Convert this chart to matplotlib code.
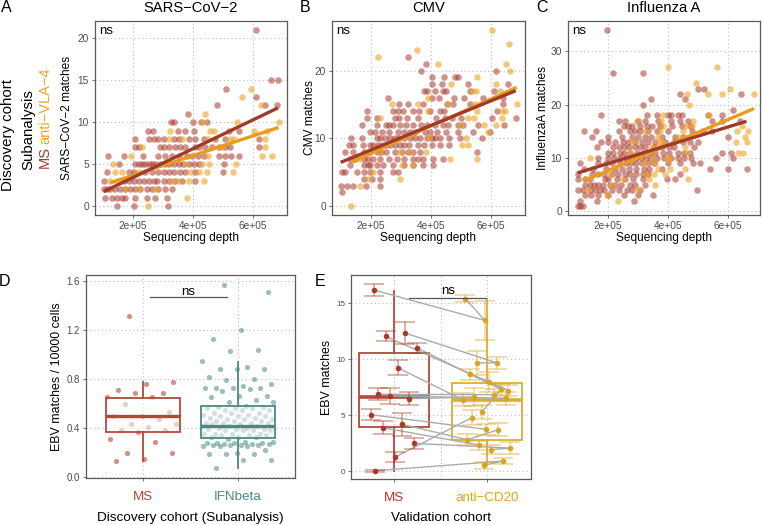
import numpy as np
import matplotlib.pyplot as plt
from matplotlib.ticker import FuncFormatter

plt.rcParams['font.family'] = ['Liberation Sans', 'DejaVu Sans']

W, H = 763, 525

# 测序深度（单位 1e5），按匹配数分组，从散点图读取
sars_ms = {
    0: [1.48, 2.03, 3.16],
    1: [1.07, 1.31, 1.48, 1.65, 1.76, 2.09, 2.48, 2.75, 3.14],
    2: [1.04, 1.15, 1.26, 1.42, 1.59, 1.76, 1.92, 2.09, 2.25, 2.48, 2.64, 2.86, 3.09, 3.31],
    3: [1.04, 1.70, 1.87, 2.03, 2.20, 2.37, 2.53, 2.70, 2.81, 3.03, 3.20, 3.42, 3.64, 4.08],
    4: [1.15, 1.87, 2.03, 2.42, 2.64, 2.86, 3.03, 3.20, 3.36, 3.58, 3.75, 4.08, 4.99],
    5: [1.56, 2.07, 2.20, 2.31, 2.42, 2.53, 2.64, 2.75, 2.92, 3.09, 3.22, 3.36, 3.53, 3.69, 3.86, 4.03, 4.19, 5.02],
    6: [1.18, 1.70, 2.33, 2.86, 3.09, 3.31, 3.53, 3.81, 3.97, 4.17, 4.38, 4.86, 5.08, 5.28, 5.52],
    7: [2.07, 2.20, 2.92, 3.03, 3.20, 3.40, 3.58, 3.75, 4.08, 4.19, 4.41, 4.64, 4.86, 5.08, 5.24, 6.19],
    8: [2.07, 2.53, 2.70, 2.86, 3.03, 3.36, 3.53, 3.86, 4.08, 4.36, 4.75, 5.08, 6.19],
    9: [2.50, 2.68, 3.50, 3.75, 4.03, 5.19, 5.52],
    10: [3.27, 3.36, 4.00, 4.27, 4.47],
    11: [3.84],
    12: [4.82, 6.41, 6.80],
    13: [6.10],
    14: [5.11],
    15: [6.60, 6.83],
    21: [6.11],
}
sars_vla = {
    0: [2.51],
    1: [3.81],
    2: [1.76, 2.20, 2.75],
    3: [1.26, 1.48, 3.31, 3.53, 3.86, 4.36],
    4: [1.42, 1.65, 2.20, 3.92, 4.19, 4.47, 5.32],
    5: [1.35, 3.75, 4.30, 4.55, 5.43],
    6: [1.96, 4.52, 6.30, 6.63],
    7: [2.31, 4.97, 6.41],
    8: [3.22, 3.64, 4.52, 5.24, 5.36, 6.41],
    9: [3.23, 4.58, 4.69, 6.02, 6.46],
    10: [4.30, 5.47, 6.85],
    11: [4.39],
    12: [6.27],
    13: [5.63],
    14: [5.94],
}

cmv_ms = {
    2: [1.03],
    3: [1.00, 1.20, 1.42, 1.84, 2.31],
    4: [1.76, 2.03, 2.31],
    5: [1.04, 1.15, 1.53, 1.76, 1.98, 2.31, 2.75, 2.92],
    6: [1.31, 1.76, 1.92, 1.98, 2.20, 2.42, 2.75, 3.09, 3.42, 3.75, 4.08],
    7: [1.31, 1.48, 1.76, 1.92, 2.09, 2.31, 2.59, 2.86, 3.09, 3.42, 3.58, 3.75, 4.06, 4.41],
    8: [1.13, 1.42, 1.76, 1.98, 2.20, 2.34, 2.51, 2.81, 3.03, 3.23, 3.42, 3.64, 5.52],
    9: [1.26, 1.40, 1.73, 1.98, 2.09, 2.23, 2.37, 2.51, 2.64, 2.79, 2.97, 3.11, 3.28, 3.56, 3.78, 4.03, 4.30, 4.61],
    10: [1.35, 1.70, 2.20, 2.31, 2.48, 2.64, 2.79, 2.94, 3.11, 3.31, 3.47, 3.64, 3.86, 4.03, 4.14, 4.30, 4.60, 4.97, 5.69],
    11: [1.96, 2.14, 2.37, 2.59, 2.92, 3.11, 3.31, 3.47, 3.81, 3.97, 4.19, 4.50, 4.91, 5.41, 5.96],
    12: [1.72, 2.20, 2.51, 2.62, 2.75, 2.97, 3.17, 3.42, 3.67, 3.86, 4.12, 4.39, 4.56, 4.91, 5.08, 5.58, 6.43],
    13: [1.87, 2.20, 2.79, 2.94, 3.20, 3.56, 4.17, 4.47, 4.71, 5.00, 6.02, 6.82],
    14: [1.87, 2.73, 2.90, 3.06, 3.42, 3.62, 3.97, 4.30, 4.45, 6.19],
    15: [2.95, 3.23, 3.75, 4.52, 4.72, 5.30, 6.39],
    16: [2.56, 4.05, 4.28, 4.78, 5.10, 5.74, 6.41],
    17: [3.78, 3.86, 4.12, 4.41, 4.50, 5.30, 6.10],
    18: [4.05, 4.36, 5.25, 6.58],
    19: [4.05, 4.45, 4.80, 4.89],
    20: [3.67, 6.15],
    21: [3.84],
    22: [3.25],
}
cmv_vla = {
    0: [1.35],
    3: [1.65],
    4: [1.92, 2.97],
    5: [2.07],
    6: [3.03, 3.42],
    7: [1.65, 4.64, 5.52],
    8: [2.31, 2.97, 3.31, 3.84],
    9: [5.02, 5.22],
    10: [3.95, 5.17],
    11: [5.91],
    12: [5.00, 5.78, 6.15],
    13: [2.31, 5.22, 5.44, 6.37],
    14: [3.89, 5.52, 6.37, 6.46],
    15: [2.70, 3.56, 4.58, 5.47, 6.85],
    16: [3.89],
    17: [5.36, 5.49, 6.30],
    18: [4.67, 6.15],
    19: [5.52],
    20: [6.63],
    21: [4.25, 6.50],
    22: [2.23],
    23: [3.55],
    24: [6.60],
    26: [6.04],
}

flu_ms = {
    1: [1.00, 1.08, 1.17],
    2: [1.08, 1.63, 2.89],
    3: [1.24, 1.44, 1.69, 2.02, 2.56, 3.02, 3.52],
    4: [1.00, 1.19, 1.41, 1.58, 1.74, 1.89, 2.13, 2.39, 2.63, 2.80, 3.08, 4.97],
    5: [1.24, 1.41, 1.56, 1.69, 1.86, 2.08, 2.24, 2.44, 2.74, 2.91, 3.24],
    6: [1.02, 1.24, 1.41, 1.91, 2.02, 2.30, 2.58, 2.83, 3.17, 3.97, 4.24],
    7: [1.02, 1.47, 1.69, 1.89, 2.13, 2.36, 2.58, 2.74, 2.94, 3.17, 3.36, 4.41],
    8: [1.22, 1.52, 1.94, 2.24, 2.49, 2.72, 2.94, 3.22, 3.39, 3.80, 5.41, 6.02, 6.63],
    9: [1.08, 1.67, 1.94, 2.13, 2.41, 2.60, 2.78, 2.94, 3.16, 3.36, 3.56, 4.02, 4.41, 4.86, 5.08],
    10: [1.69, 2.00, 2.22, 2.41, 2.61, 2.78, 2.93, 3.11, 3.28, 3.44, 3.63, 3.89, 4.11, 4.33, 4.56, 4.78, 5.60, 6.19],
    11: [2.02, 2.19, 2.41, 2.56, 2.74, 2.97, 3.19, 3.41, 3.58, 3.83, 4.06, 4.33, 4.56, 4.74, 5.80, 6.11],
    12: [1.66, 2.19, 2.39, 2.56, 2.72, 2.91, 3.08, 3.24, 3.56, 3.80, 4.04, 4.22, 4.89],
    13: [1.78, 2.02, 2.24, 2.50, 2.69, 2.91, 3.13, 3.36, 3.58, 3.91, 4.22, 4.52, 4.74, 5.02],
    14: [1.47, 2.02, 2.47, 2.80, 3.00, 3.24, 3.44, 3.80, 4.24, 4.52, 6.00],
    15: [1.21, 1.60, 2.39, 2.74, 2.91, 3.08, 3.36, 3.63, 4.02, 4.80, 5.19, 5.47],
    16: [2.56, 2.67, 2.80, 3.08, 3.30, 3.47, 3.74, 4.13, 4.49, 4.74],
    17: [2.38, 2.58, 3.02, 3.24, 3.67, 4.11, 4.41, 4.69, 5.47, 5.80, 6.41],
    18: [1.78, 3.30, 3.63, 4.02, 4.11, 4.36, 4.47, 5.33, 5.80],
    19: [6.19],
    20: [3.17],
    21: [3.43, 4.58],
    22: [4.41, 6.43],
    23: [5.02, 5.22],
    26: [2.19, 3.19],
    34: [1.97],
}
flu_vla = {
    2: [2.33],
    3: [1.97],
    4: [1.33, 3.00],
    5: [2.13, 3.58],
    6: [1.24, 2.52, 3.39, 4.67],
    7: [2.08, 3.28, 3.56, 3.91],
    8: [3.69, 4.08, 4.58],
    9: [3.21, 3.58],
    10: [1.41, 3.47, 3.97, 4.06],
    11: [2.74, 4.63, 6.33, 6.52],
    12: [3.47, 3.69, 4.58],
    13: [2.86, 3.74, 3.80, 6.28, 6.63],
    14: [3.69, 4.36, 6.58],
    15: [3.24, 3.74, 4.52, 6.30, 6.67],
    16: [3.83, 4.61, 4.80, 6.47],
    17: [2.97, 3.77, 4.83],
    18: [3.86, 5.39],
    20: [4.71],
    22: [4.63, 5.36, 5.80, 6.88],
    23: [6.08],
    24: [4.94],
    27: [4.00, 5.63],
}

# D：EBV matches / 10000 cells
d_ms = [1.315, 0.78, 0.76, 0.71, 0.69, 0.69, 0.65, 0.65, 0.60, 0.535, 0.50, 0.50,
        0.47, 0.43, 0.43, 0.41, 0.385, 0.38, 0.37, 0.31, 0.29, 0.20, 0.20, 0.15, 0.13]
d_ifn = [1.57, 1.51, 1.20, 1.13, 1.04, 1.03, 0.95, 0.90, 0.88, 0.88, 0.88, 0.82, 0.80, 0.79,
         0.76, 0.74, 0.73, 0.73, 0.725, 0.725, 0.72, 0.70, 0.665, 0.66, 0.65, 0.63, 0.61, 0.61,
         0.58, 0.57, 0.57, 0.56, 0.56, 0.56, 0.55, 0.55, 0.55, 0.52, 0.52, 0.52, 0.51, 0.51,
         0.50, 0.50, 0.50, 0.48, 0.48, 0.47, 0.47, 0.47, 0.46, 0.46, 0.46, 0.44, 0.44, 0.44,
         0.44, 0.43, 0.43, 0.42, 0.42, 0.42, 0.40, 0.40, 0.39, 0.39, 0.39, 0.38, 0.38, 0.38,
         0.38, 0.35, 0.35, 0.35, 0.35, 0.34, 0.34, 0.34, 0.33, 0.33, 0.33, 0.31, 0.29, 0.285,
         0.28, 0.28, 0.28, 0.28, 0.27, 0.27, 0.27, 0.265, 0.26, 0.26, 0.26, 0.255, 0.25, 0.25,
         0.22, 0.20, 0.19, 0.185, 0.185, 0.135, 0.135, 0.07]
d_box_ms = dict(whislo=0.128, q1=0.365, med=0.50, q3=0.648, whishi=0.774)
d_box_ifn = dict(whislo=0.073, q1=0.318, med=0.418, q3=0.584, whishi=0.943)

# E：每位患者 MS 值与 anti-CD20 随访值（含误差）
e_ms = [16.16, 12.32, 12.02, 11.00, 9.23, 6.85, 6.46, 6.70, 5.03, 4.17, 3.87, 2.47, 1.22, 0.03]
e_ms_err = [0.5, 1.0, 0.45, 0.45, 0.65, 0.55, 0.6, 0.75, 0.5, 1.05, 0.6, 0.5, 0.45, 0.1]
e_cd20 = [[13.45, 15.39], [9.67, 9.64], [7.17, 7.95, 8.63], [7.29, 5.27], [6.37], [6.82],
          [6.61], [6.50], [3.72], [2.80, 3.69], [2.32], [2.05, 1.90], [4.76], [0.89, 0.51]]
e_cd20_err = [[1.75, 0.3], [0.55, 1.05], [0.5, 0.9, 0.5], [0.5, 0.6], [0.6], [0.5],
              [0.8], [0.6], [0.5], [0.5, 0.6], [0.4], [0.5, 0.4], [0.65], [0.3, 0.3]]
e_box_ms = dict(whislo=0.0, q1=3.93, med=6.61, q3=10.57, whishi=16.07)
e_box_cd20 = dict(whislo=0.55, q1=2.74, med=6.37, q3=7.89, whishi=15.39)

C_MS = '#A8392B'
C_VLA = '#EBA325'
C_MS_LINE = '#A23A28'
C_VLA_LINE = '#E99B1B'
C_D_MS = '#B5473A'
C_IFN = '#4C8985'
C_CD20 = '#D9A521'
GRID = '#BEBEBE'


def flatten(d):
    xs, ys = [], []
    for k, v in d.items():
        xs += v
        ys += [k] * len(v)
    return np.array(xs) * 1e5, np.array(ys, dtype=float)


def spread(n, width, start=0.3):
    # 确定性的抖动偏移
    return ((np.arange(n) * 0.618034 + start) % 1 * 2 - 1) * width


def ax_at(l, t, r, b):
    return fig.add_axes([l / W, 1 - b / H, (r - l) / W, (b - t) / H])


def ftext(x, y, s, **kw):
    fig.text(x / W, 1 - y / H, s, **kw)


def style(ax, labelsize):
    for s in ax.spines.values():
        s.set_color('#5A5A5A')
        s.set_linewidth(0.9)
    ax.grid(True, color=GRID, linestyle=(0, (1, 2.5)), linewidth=0.8)
    ax.set_axisbelow(True)
    ax.tick_params(length=2.2, width=0.6, color='#5A5A5A', labelcolor='#4D4D4D',
                   labelsize=labelsize, pad=2)


fig = plt.figure(figsize=(W / 100, H / 100), dpi=100)

# ---- A, B, C 散点 + 线性拟合 ----
panels = [
    ('SARS\u2212CoV\u22122', sars_ms, sars_vla, (94.7, 21.3, 287, 214.7), (0.74e5, 7.13e5),
     (-1.05, 22.05), [0, 5, 10, 15, 20], 'SARS\u2212CoV\u22122 matches', 67.5, 'A', 6),
    ('CMV', cmv_ms, cmv_vla, (331.7, 21.3, 525, 214.7), (0.70e5, 7.13e5),
     (-1.3, 27.3), [0, 10, 20], 'CMV matches', 310, 'B', 305),
    ('Influenza A', flu_ms, flu_vla, (567.7, 21.3, 760, 214.7), (0.67e5, 7.08e5),
     (-0.65, 35.65), [0, 10, 20, 30], 'InfluenzaA matches', 543, 'C', 542),
]
for title, ms, vla, box, xlim, ylim, yticks, ylab, ylx, letter, lx in panels:
    ax = ax_at(*box)
    style(ax, 7.3)
    xm, ym = flatten(ms)
    xv, yv = flatten(vla)
    ax.scatter(xm, ym, s=22, color=C_MS, alpha=0.55, linewidths=0, zorder=2)
    ax.scatter(xv, yv, s=22, color=C_VLA, alpha=0.6, linewidths=0, zorder=2)
    for xs, ys, c in [(xv, yv, C_VLA_LINE), (xm, ym, C_MS_LINE)]:
        k, b0 = np.polyfit(xs, ys, 1)
        xx = np.array([xs.min(), xs.max()])
        ax.plot(xx, k * xx + b0, color=c, lw=2.4, solid_capstyle='butt', zorder=3)
    ax.set_xlim(*xlim)
    ax.set_ylim(*ylim)
    ax.set_xticks([2e5, 4e5, 6e5])
    ax.xaxis.set_major_formatter(FuncFormatter(lambda v, p: '{:.0e}'.format(v)))
    ax.set_yticks(yticks)
    ax.text(0.022, 0.932, 'ns', transform=ax.transAxes, ha='left', va='baseline', fontsize=9.5)
    l, t, r, b = box
    ftext((l + r) / 2, 8, title, ha='center', va='center', fontsize=10.6)
    ftext((l + r) / 2, 238, 'Sequencing depth', ha='center', va='center', fontsize=8.6)
    ftext(ylx, (t + b) / 2, ylab, ha='center', va='center', rotation=90, fontsize=8.6)
    ftext(lx, 8, letter, ha='center', va='center', fontsize=11.5)

# 左侧图例
ftext(8.5, 135, 'Discovery cohort', rotation=90, ha='center', va='center', fontsize=10.8)
ftext(28, 130, 'Subanalysis', rotation=90, ha='center', va='center', fontsize=10.8)
ftext(45, 168, 'MS', rotation=90, ha='center', va='bottom', fontsize=10.5, color=C_MS)
ftext(45, 68, 'anti\u2212VLA\u22124', rotation=90, ha='center', va='top', fontsize=10.5, color=C_VLA)

# ---- D 箱线图 ----
axd = ax_at(86, 275, 295, 478)
style(axd, 7)
for pos, vals, c, a in [(1, d_ms, C_D_MS, 0.6), (2, d_ifn, C_IFN, 0.55)]:
    xs = pos + spread(len(vals), 0.38)
    axd.scatter(xs, vals, s=14, color=c, alpha=a, linewidths=0, zorder=2)
for pos, st, c in [(1, d_box_ms, C_D_MS), (2, d_box_ifn, C_IFN)]:
    axd.bxp([dict(st, fliers=[])], positions=[pos], widths=0.77, patch_artist=True,
            showfliers=False, showcaps=False, manage_ticks=False, zorder=3,
            boxprops=dict(facecolor=(1, 1, 1, 0.55), edgecolor=c, linewidth=1.3),
            medianprops=dict(color=c, linewidth=2.4, solid_capstyle='butt'),
            whiskerprops=dict(color=c, linewidth=1.3))
axd.plot([1.07, 1.88], [1.467, 1.467], color='#555555', lw=0.9, zorder=4)
axd.text(1.475, 1.485, 'ns', ha='center', va='baseline', fontsize=9.5)
axd.set_xlim(0.4, 2.6)
axd.set_ylim(-0.008, 1.65)
axd.set_yticks([0.0, 0.4, 0.8, 1.2, 1.6])
axd.yaxis.set_major_formatter(FuncFormatter(lambda v, p: '{:.1f}'.format(v)))
axd.set_xticks([1, 2])
axd.set_xticklabels(['MS', 'IFNbeta'], fontsize=9.6)
axd.tick_params(axis='x', pad=7)
for lab, c in zip(axd.get_xticklabels(), [C_D_MS, C_IFN]):
    lab.set_color(c)
ftext(190.5, 518, 'Discovery cohort (Subanalysis)', ha='center', va='center', fontsize=9.7)
ftext(57, 376.5, 'EBV matches / 10000 cells', rotation=90, ha='center', va='center', fontsize=8.9)
ftext(5, 281, 'D', ha='center', va='center', fontsize=11.5)

# ---- E 配对箱线图 ----
axe = ax_at(351, 275, 531, 479)
style(axe, 5.8)
for pos, st, c in [(1, e_box_ms, '#B04A3D'), (2, e_box_cd20, '#DDAD33')]:
    axe.bxp([dict(st, fliers=[])], positions=[pos], widths=0.75, patch_artist=True,
            showfliers=False, showcaps=False, manage_ticks=False, zorder=1.5,
            boxprops=dict(facecolor='none', edgecolor=c, linewidth=1.3),
            medianprops=dict(color=c, linewidth=2.6, solid_capstyle='butt'),
            whiskerprops=dict(color=c, linewidth=1.3))
ms_x = 1 + spread(len(e_ms), 0.27, 0.1)
n_cd = sum(len(v) for v in e_cd20)
cd_x_all = 2 + spread(n_cd, 0.27, 0.45)
cd_x, cd_y, cd_e = [], [], []
i = 0
for p in range(len(e_ms)):
    xs = list(cd_x_all[i:i + len(e_cd20[p])])
    i += len(e_cd20[p])
    axe.plot([ms_x[p]] + xs, [e_ms[p]] + e_cd20[p], color='#ABABAB', lw=1.0, zorder=2)
    cd_x += xs
    cd_y += e_cd20[p]
    cd_e += e_cd20_err[p]
axe.errorbar(ms_x, e_ms, yerr=e_ms_err, fmt='none', ecolor=C_MS, alpha=0.45,
             capsize=7, elinewidth=1.2, capthick=1.2, zorder=3)
axe.errorbar(cd_x, cd_y, yerr=cd_e, fmt='none', ecolor=C_CD20, alpha=0.45,
             capsize=7, elinewidth=1.2, capthick=1.2, zorder=3)
axe.scatter(ms_x, e_ms, s=16, color=C_MS, linewidths=0, zorder=4)
axe.scatter(cd_x, cd_y, s=16, color=C_CD20, linewidths=0, zorder=4)
axe.plot([1.16, 1.99], [15.45, 15.45], color='#555555', lw=0.9, zorder=4)
axe.text(1.58, 15.83, 'ns', ha='center', va='baseline', fontsize=9.5)
axe.set_xlim(0.54, 2.47)
axe.set_ylim(-0.71, 17.5)
axe.set_yticks([0, 5, 10, 15])
axe.set_xticks([1, 2])
axe.set_xticks([1.5], minor=True)
axe.grid(True, which='minor', axis='x', color=GRID, linestyle=(0, (1, 2.5)), linewidth=0.8)
axe.tick_params(axis='x', which='minor', length=0)
axe.set_xticklabels(['MS', 'anti\u2212CD20'], fontsize=9.6)
axe.tick_params(axis='x', which='major', pad=7)
for lab, c in zip(axe.get_xticklabels(), [C_MS, C_CD20]):
    lab.set_color(c)
ftext(441, 518, 'Validation cohort', ha='center', va='center', fontsize=9.7)
ftext(327, 377, 'EBV matches', rotation=90, ha='center', va='center', fontsize=8.9)
ftext(320, 282, 'E', ha='center', va='center', fontsize=11.5)

fig.savefig('out.png', dpi=100)
